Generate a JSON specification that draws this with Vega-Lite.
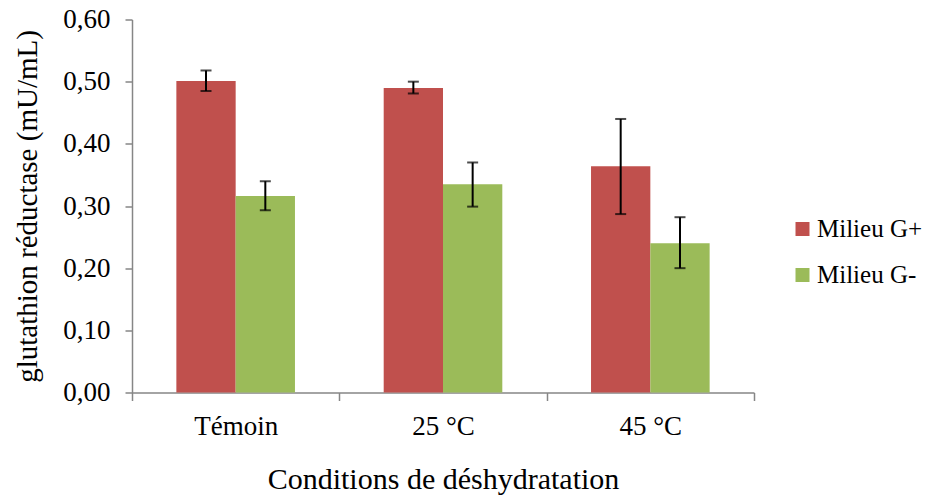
{
  "$schema": "https://vega.github.io/schema/vega-lite/v6.json",
  "autosize": "none",
  "width": 622,
  "height": 373,
  "padding": {"left": 132, "top": 19.5, "right": 174, "bottom": 104.5},
  "background": "white",
  "data": {
    "values": [
      {"cond": "Témoin", "milieu": "Milieu G+", "v": 0.501, "lo": 0.485, "hi": 0.518},
      {"cond": "Témoin", "milieu": "Milieu G-", "v": 0.316, "lo": 0.293, "hi": 0.340},
      {"cond": "25 °C", "milieu": "Milieu G+", "v": 0.490, "lo": 0.481, "hi": 0.500},
      {"cond": "25 °C", "milieu": "Milieu G-", "v": 0.335, "lo": 0.299, "hi": 0.370},
      {"cond": "45 °C", "milieu": "Milieu G+", "v": 0.364, "lo": 0.287, "hi": 0.440},
      {"cond": "45 °C", "milieu": "Milieu G-", "v": 0.240, "lo": 0.200, "hi": 0.282}
    ]
  },
  "encoding": {
    "x": {
      "field": "cond", "type": "nominal", "sort": ["Témoin", "25 °C", "45 °C"],
      "scale": {"paddingInner": 0, "paddingOuter": 0},
      "axis": {
        "title": "Conditions de déshydratation",
        "labelAngle": 0, "tickBand": "extent", "tickSize": 8, "tickColor": "#868686",
        "domainColor": "#868686", "domainWidth": 1.5, "tickWidth": 1.5,
        "labelFont": "Liberation Serif", "labelFontSize": 27, "labelColor": "black",
        "labelPadding": 13,
        "titleFont": "Liberation Serif", "titleFontSize": 30, "titleFontWeight": "normal",
        "titleColor": "black", "titlePadding": 25
      }
    },
    "xOffset": {
      "field": "milieu", "type": "nominal", "sort": ["Milieu G+", "Milieu G-"],
      "scale": {"paddingInner": 0, "paddingOuter": 0.748}
    }
  },
  "layer": [
    {
      "mark": {"type": "bar"},
      "encoding": {
        "y": {
          "field": "v", "type": "quantitative",
          "scale": {"domain": [0, 0.6], "nice": false},
          "axis": {
            "title": "glutathion réductase (mU/mL)",
            "values": [0, 0.1, 0.2, 0.3, 0.4, 0.5, 0.6],
            "labelExpr": "replace(format(datum.value, '.2f'), '.', ',')",
            "grid": false, "tickSize": 7, "tickColor": "#868686", "tickWidth": 1.5,
            "domainColor": "#868686", "domainWidth": 1.5,
            "labelFont": "Liberation Serif", "labelFontSize": 27, "labelColor": "black",
            "labelPadding": 15,
            "titleFont": "Liberation Serif", "titleFontSize": 29, "titleFontWeight": "normal",
            "titleColor": "black", "titlePadding": 20
          }
        },
        "color": {
          "field": "milieu", "type": "nominal", "sort": ["Milieu G+", "Milieu G-"],
          "scale": {"domain": ["Milieu G+", "Milieu G-"], "range": ["#C0504D", "#9BBB59"]},
          "legend": {
            "title": null, "orient": "none", "legendX": 658, "legendY": 197,
            "symbolType": "square", "symbolSize": 196, "symbolStrokeWidth": 0,
            "labelFont": "Liberation Serif", "labelFontSize": 25, "labelColor": "black",
            "rowPadding": 20, "labelOffset": 2
          }
        }
      }
    },
    {
      "mark": {"type": "rule", "color": "black", "strokeWidth": 2},
      "encoding": {
        "y": {"field": "lo", "type": "quantitative"},
        "y2": {"field": "hi"}
      }
    },
    {
      "mark": {"type": "tick", "color": "black", "thickness": 2, "size": 11, "orient": "horizontal"},
      "encoding": {"y": {"field": "lo", "type": "quantitative"}}
    },
    {
      "mark": {"type": "tick", "color": "black", "thickness": 2, "size": 11, "orient": "horizontal"},
      "encoding": {"y": {"field": "hi", "type": "quantitative"}}
    }
  ],
  "config": {"view": {"stroke": null}}
}
